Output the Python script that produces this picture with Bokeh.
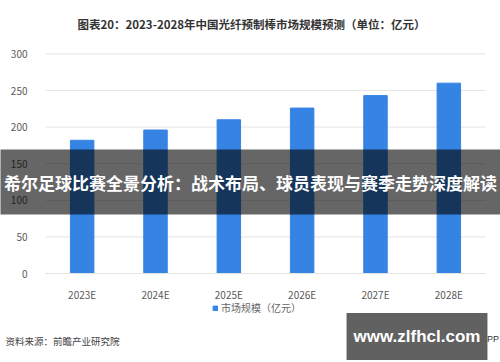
from bokeh.plotting import figure
from bokeh.models import Label, Legend, LegendItem, FixedTicker, Range1d
from bokeh.embed import file_html
from bokeh.resources import INLINE

# ---- data ----
years = ["2023E", "2024E", "2025E", "2026E", "2027E", "2028E"]
market_size = [182, 196, 210, 226, 243, 260]
y_ticks = [0, 50, 100, 150, 200, 250, 300]
title_text = "图表20：2023-2028年中国光纤预制棒市场规模预测（单位：亿元）"
series_name = "市场规模（亿元）"
banner_text = "希尔足球比赛全景分析：战术布局、球员表现与赛季走势深度解读"
source_text = "资料来源：前瞻产业研究院"
site_text = "www.zlfhcl.com"
app_text = ".APP"

CJK = "Noto Sans CJK SC"
W, H = 500, 362
# plot area in canvas pixels (y from top)
PL, PR, P0, P300 = 45, 485, 273, 53.4
n = len(years)
px_per_cat = (PR - PL) / n
px_per_unit = (P0 - P300) / 300.0

x_pos = list(range(n))
x_start = -0.5 - PL / px_per_cat
x_end = -0.5 + (W - PL) / px_per_cat
y_start = -(H - P0) / px_per_unit
y_end = P0 / px_per_unit


def sy(y):
    return H - y


p = figure(width=W, height=H,
           x_range=Range1d(x_start, x_end),
           y_range=Range1d(y_start, y_end),
           output_backend="svg", toolbar_location=None,
           min_border=0)
p.outline_line_color = None
p.background_fill_color = "white"
p.border_fill_color = "white"
p.xgrid.grid_line_color = None
p.ygrid.grid_line_color = None

# horizontal grid lines across the plot area
p.segment(x0=[-0.5] * len(y_ticks), x1=[n - 0.5] * len(y_ticks),
          y0=y_ticks, y1=y_ticks, line_color="#e4e4e4", line_width=1)

r = p.vbar(x=x_pos, top=market_size, width=0.32, color="#3584E4")

p.yaxis.fixed_location = -0.5
p.yaxis.bounds = (0, 300)
p.yaxis.ticker = FixedTicker(ticks=y_ticks)
p.yaxis.axis_line_color = None
p.yaxis.major_tick_line_color = None
p.yaxis.minor_tick_line_color = None
p.yaxis.major_label_standoff = 12
p.yaxis.major_label_text_font = CJK
p.yaxis.major_label_text_font_size = "10px"
p.yaxis.major_label_text_color = "#595959"

p.xaxis.fixed_location = 0
p.xaxis.bounds = (-0.5, n - 0.5)
p.xaxis.ticker = FixedTicker(ticks=x_pos)
p.xaxis.major_label_overrides = {i: y for i, y in zip(x_pos, years)}
p.xaxis.axis_line_color = "#e4e4e4"
p.xaxis.major_tick_line_color = None
p.xaxis.minor_tick_line_color = None
p.xaxis.major_label_standoff = 7
p.xaxis.major_label_text_font = CJK
p.xaxis.major_label_text_font_size = "10px"
p.xaxis.major_label_text_color = "#595959"

# title
p.add_layout(Label(x=251, y=sy(23), x_units="screen", y_units="screen",
                   text=title_text, text_align="center", text_baseline="middle",
                   text_font=CJK, text_font_size="11.5px", text_font_style="bold",
                   text_color="#333333"))

# legend
legend = Legend(items=[LegendItem(label=series_name, renderers=[r])],
                location=(212, sy(315)), orientation="horizontal",
                padding=0, margin=0, spacing=0,
                glyph_width=6, glyph_height=6, label_standoff=3, label_height=12,
                label_text_font=CJK, label_text_font_size="10px",
                label_text_color="#666666",
                border_line_color=None, background_fill_alpha=0)
p.add_layout(legend, "center")

# source
p.add_layout(Label(x=5, y=sy(340), x_units="screen", y_units="screen",
                   text=source_text, text_align="left", text_baseline="middle",
                   text_font=CJK, text_font_size="9.5px", text_color="#444444"))

# banner overlay
p.add_layout(Label(x=250, y=sy(181.5), x_units="screen", y_units="screen",
                   text=banner_text, text_align="center", text_baseline="middle",
                   text_font=CJK, text_font_size="17px", text_font_style="bold",
                   text_color="white", background_fill_color="black",
                   background_fill_alpha=0.6, padding=(16, 20)))

# site stamp
p.add_layout(Label(x=478, y=sy(338), x_units="screen", y_units="screen",
                   text=app_text, text_align="left", text_baseline="middle",
                   text_font="Liberation Sans", text_font_size="9px",
                   text_color="#333333"))
p.add_layout(Label(x=416.5, y=sy(336), x_units="screen", y_units="screen",
                   text=site_text, text_align="center", text_baseline="middle",
                   text_font="Liberation Sans", text_font_size="17px",
                   text_font_style="bold", text_color="white",
                   background_fill_color="#616161", padding=(7, 14)))

open("out.html", "w").write(file_html(p, INLINE))
